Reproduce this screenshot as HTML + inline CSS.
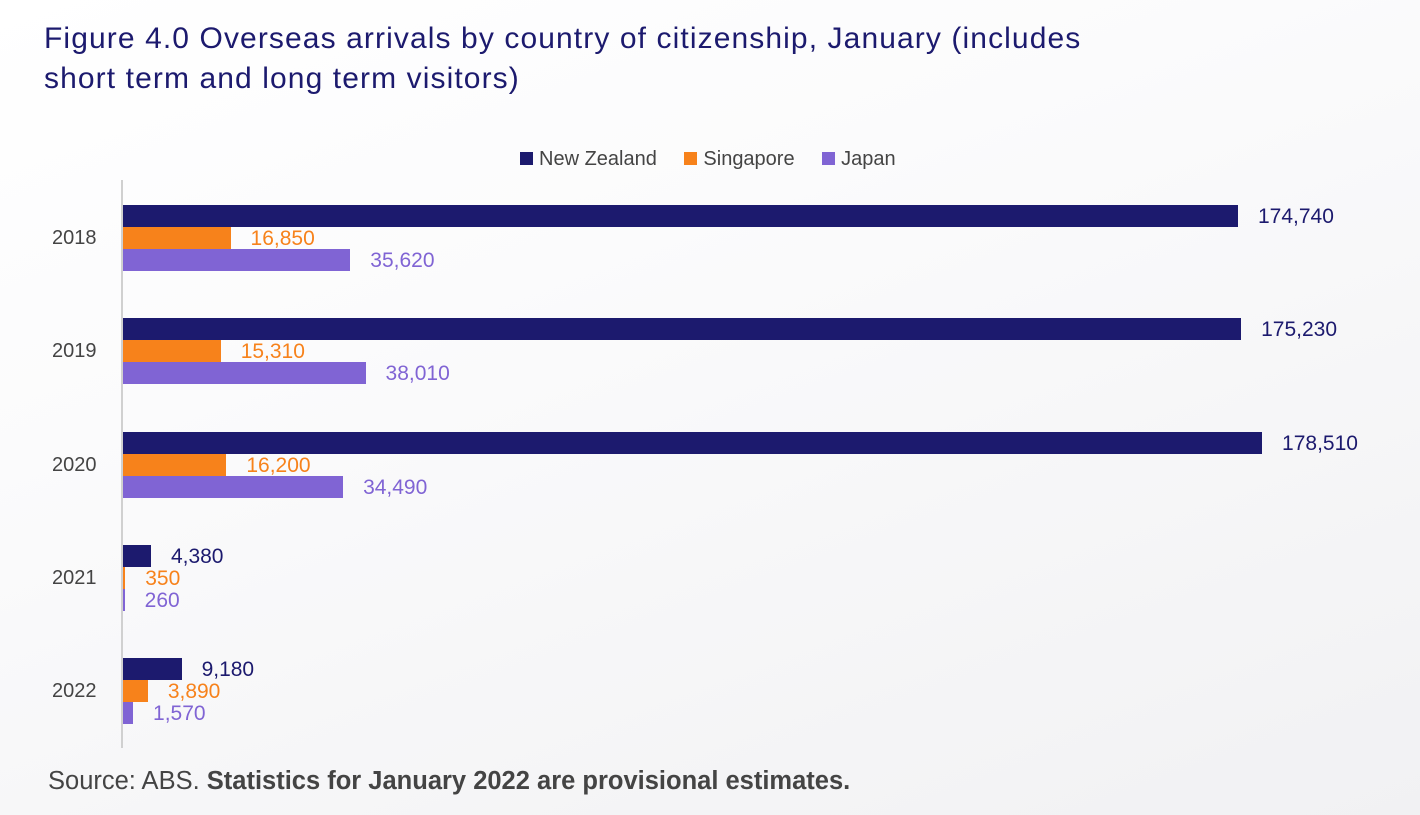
<!DOCTYPE html>
<html><head><meta charset="utf-8"><style>
html,body{margin:0;padding:0}
body{width:1420px;height:815px;position:relative;overflow:hidden;background:linear-gradient(160deg,#ffffff 0%,#fbfbfc 35%,#f1f1f3 100%);font-family:"Liberation Sans",sans-serif}
.t{position:absolute;left:44px;top:19px;font-size:30px;line-height:40px;color:#1c1a6e;letter-spacing:1.1px;white-space:nowrap}
.b{position:absolute;height:22px}
.l{position:absolute;font-size:21px;line-height:22px;white-space:nowrap}
.y{position:absolute;left:52px;font-size:20px;color:#444;line-height:22px}
.nz{background:#1c1a6e}.sg{background:#f7821b}.jp{background:#8064d4}
.cnz{color:#1c1a6e}.csg{color:#f7821b}.cjp{color:#8064d4}
</style></head><body>
<div class="t">Figure 4.0 Overseas arrivals by country of citizenship, January (includes<br>short term and long term visitors)</div>
<div style="position:absolute;top:148px;left:520px;font-size:20px;color:#444;line-height:22px;white-space:nowrap">
<span style="display:inline-block;width:13px;height:13px;background:#1c1a6e;margin-right:6px"></span>New Zealand
<span style="display:inline-block;width:13px;height:13px;background:#f7821b;margin:0 6px 0 22px"></span>Singapore
<span style="display:inline-block;width:13px;height:13px;background:#8064d4;margin:0 6px 0 22px"></span>Japan</div>
<div style="position:absolute;left:121px;top:180px;width:2px;height:568px;background:#d0d0d0"></div>
<div id="c"></div>
<div style="position:absolute;left:48px;top:767px;font-size:25.5px;color:#444;white-space:nowrap">Source: ABS. <b>Statistics for January 2022 are provisional estimates.</b></div>
<script>
var d=[["2018",174740,16850,35620],["2019",175230,15310,38010],["2020",178510,16200,34490],["2021",4380,350,260],["2022",9180,3890,1570]];
var s=1115/174740,h="",cl=["nz","sg","jp"];
d.forEach(function(r,i){var top=205+i*113.3;
h+='<div class="y" style="top:'+(top+22)+'px">'+r[0]+'</div>';
for(var k=0;k<3;k++){var w=Math.max(1.5,r[k+1]*s),y=top+k*22;
h+='<div class="b '+cl[k]+'" style="left:123px;top:'+y+'px;width:'+w+'px"></div>';
h+='<div class="l c'+cl[k]+'" style="left:'+(123+w+20)+'px;top:'+(y+1)+'px">'+r[k+1].toLocaleString("en-US")+'</div>';}});
document.getElementById("c").innerHTML=h;
</script>
</body></html>
